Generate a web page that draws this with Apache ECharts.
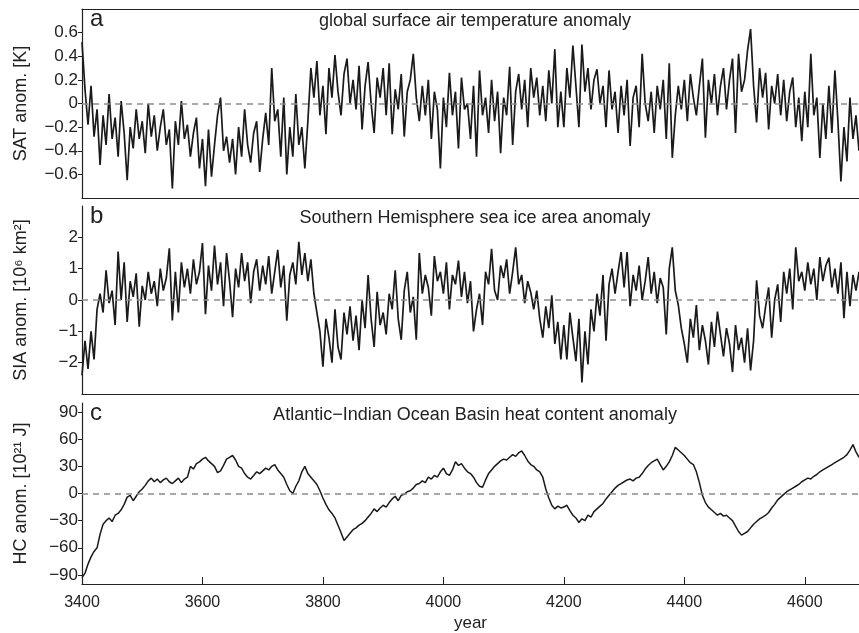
<!DOCTYPE html>
<html>
<head>
<meta charset="utf-8">
<script src="https://cdn.jsdelivr.net/npm/echarts@6/dist/echarts.min.js"></script>
<style>
  html, body { margin: 0; padding: 0; background: #fff; }
  #chart { width: 859px; height: 633px; }
</style>
</head>
<body>
<div id="chart"></div>
<script>
// model years 3400..4690, one value every 5 years
const startYear = 3400;
const yearStep = 5;

// global surface air temperature anomaly [K]
const satAnom = [
  0.52, 0.12, -0.18, 0.15, -0.28, -0.05, -0.52, -0.1, -0.35, 0.08,
  -0.3, -0.12, -0.45, 0.02, -0.25, -0.65, -0.2, -0.38, -0.05, -0.3,
  -0.15, -0.42, 0.0, -0.28, -0.1, -0.4, -0.2, -0.05, -0.35, -0.22,
  -0.72, -0.15, -0.35, 0.02, -0.3, -0.18, -0.45, -0.25, -0.12, -0.55,
  -0.3, -0.7, -0.22, -0.62, -0.35, -0.1, 0.05, -0.4, -0.28, -0.5,
  -0.3, -0.6, -0.2, -0.45, -0.05, -0.35, -0.5, -0.25, -0.15, -0.58,
  -0.3, -0.08, -0.35, 0.3, -0.15, -0.05, -0.45, 0.05, -0.6, -0.2,
  -0.45, 0.08, -0.35, -0.2, -0.55, -0.15, 0.3, 0.05, 0.36, -0.1,
  0.15, -0.26, 0.3, 0.05, 0.41, 0.1, -0.1, 0.25, 0.38, 0.0,
  0.2, -0.05, 0.32, -0.22, 0.15, 0.35, 0.0, -0.25, 0.22, 0.05,
  0.3, -0.1, 0.34, -0.26, 0.12, -0.05, 0.25, -0.28, 0.1, 0.2,
  0.42, 0.05, -0.15, 0.15, -0.1, 0.2, -0.3, 0.1, -0.05, -0.55,
  0.05, -0.2, 0.26, -0.1, 0.1, -0.38, 0.22, -0.05, 0.0, -0.3,
  0.15, -0.45, 0.28, -0.1, 0.05, -0.25, 0.2, -0.15, 0.1, -0.42,
  0.05, -0.1, 0.31, -0.35, 0.1, 0.25, -0.05, 0.2, -0.2, 0.3,
  0.05, 0.22, -0.1, 0.15, -0.15, 0.28, 0.0, 0.46, -0.2, 0.1,
  -0.2, 0.3, 0.05, 0.49, 0.15, -0.2, 0.5, 0.1, 0.3, -0.05,
  0.2, 0.29, 0.0, 0.15, -0.2, 0.28, -0.05, 0.1, -0.25, 0.15,
  -0.1, 0.2, -0.36, 0.05, 0.15, -0.2, 0.42, 0.0, -0.15, 0.1,
  -0.25, 0.15, -0.05, 0.2, -0.3, 0.34, -0.46, -0.1, 0.15, -0.05,
  0.2, -0.15, 0.25, 0.05, -0.1, 0.15, 0.38, -0.29, 0.2, 0.0,
  0.25, -0.1, 0.15, 0.3, -0.05, 0.2, 0.38, -0.25, 0.42, 0.1,
  0.2, 0.45, 0.63, 0.15, -0.16, 0.3, 0.05, 0.26, -0.22, 0.15,
  0.0, 0.25, -0.1, 0.2, -0.15, 0.1, 0.22, -0.2, 0.05, -0.32,
  0.1, -0.2, 0.42, -0.1, 0.05, -0.46, 0.0, -0.3, 0.15, -0.25,
  0.28, -0.15, -0.66, -0.2, -0.49, 0.05, -0.3, -0.1, -0.4
];

// Southern Hemisphere sea ice area anomaly [10^6 km^2]
const siaAnom = [
  -2.4, -1.3, -2.2, -1.0, -1.9, -0.3, 0.2, -0.4, 0.95, -0.1,
  0.3, -0.8, 1.55, 0.0, 1.2, -0.7, 0.6, 0.1, 0.85, -0.85,
  0.45, 0.0, 0.9, 0.2, 0.6, -0.2, 1.0, 0.3, 0.7, 1.65,
  -0.65, 0.9, -0.4, 1.2, 0.4, 1.0, 0.2, 1.3, 0.5, 0.9,
  1.82, -0.45, 1.1, 0.3, 1.74, 0.5, 1.2, -0.2, 1.5, 0.6,
  -0.55, 1.0, 0.4, 1.5, 0.6, 1.2, -0.1, 0.9, 1.3, 0.3,
  1.1, 0.5, 1.4, 0.2, 0.9, 1.6, 0.4, 1.1, -0.66, 0.8,
  1.2, 0.5, 1.86, 0.8, 1.5, 0.6, 1.3, 0.2, -0.4, -1.0,
  -2.13, -0.6, -1.2, -2.0, -0.3, -1.5, -1.9, -0.4, -1.1, -0.2,
  -1.3, -0.5, -1.6, 0.0, -0.9, 0.8, -0.6, -1.5, 0.26, -0.8,
  -0.4, -1.1, 0.2, -0.3, 0.95, -0.6, -1.27, 0.3, 0.9, -0.4,
  0.1, -1.27, 1.5, 0.2, 0.8, 0.4, -0.5, 1.4, 0.6, 0.9,
  0.2, 1.2, -0.3, 0.8, 0.5, 1.26, 0.1, 0.9, -0.1, 0.6,
  -1.0, -0.3, 0.2, -0.8, 0.9, 0.5, 1.63, 0.3, 0.0, 1.1,
  0.7, 1.3, 0.2, 0.9, 1.68, 0.5, 0.8, -0.1, 0.6, 0.25,
  -0.3, 0.3, -0.6, -1.2, -0.2, -0.9, 0.15, -1.4, -0.7, -1.9,
  -0.8, -1.9, -0.4, -1.2, -1.95, -0.6, -2.63, -1.0, -2.06, -0.3,
  -1.0, 0.2, -0.5, 0.8, -1.3, 0.5, 1.0, 0.2, 0.9, 1.53,
  0.4, 1.53, -0.2, 0.8, 0.3, 1.1, 0.0, 0.6, 1.37, 0.2,
  0.9, -0.1, 0.7, 0.4, -1.1, 1.0, 1.68, 0.3, -0.16, -0.9,
  -1.4, -2.0, -0.6, -1.2, -0.16, -1.6, -0.8, -1.3, -2.06, -0.7,
  -1.5, -0.37, -1.1, -1.8, -0.9, -1.4, -2.3, -0.8, -1.6, -1.2,
  -2.0, -0.9, -2.25, -1.3, 0.63, -0.5, -0.9, -0.2, 0.4, -1.2,
  0.0, 0.5, -0.7, 0.9, 0.2, 1.0, -0.3, 1.68, 0.6, 0.9,
  0.3, 1.2, 0.5, 1.0, 0.0, 1.37, 0.6, 1.1, 1.35, 0.4,
  1.0, 0.2, 1.2, -0.58, 0.9, -0.2, 0.8, 0.3, 0.9
];

// Atlantic-Indian Ocean Basin heat content anomaly [10^21 J]
const hcAnom = [
  -93, -88, -78, -70, -64, -60, -45, -34, -30, -27,
  -31, -24, -22, -18, -12, -4, -2, -8, -3, 2,
  5, 9, 14, 17, 13, 16, 12, 15, 17, 13,
  11, 14, 17, 12, 16, 18, 30, 27, 33, 35,
  38, 40, 36, 33, 30, 23, 25, 31, 38, 40,
  42, 37, 30, 28, 22, 18, 16, 20, 24, 22,
  25, 28, 26, 30, 32, 26, 22, 18, 10, 3,
  0, 8, 14, 24, 30, 22, 18, 14, 10, 3,
  -5, -12, -18, -22, -27, -35, -43, -52, -48, -44,
  -40, -38, -35, -33, -30, -26, -22, -17, -20, -16,
  -13, -15, -10, -6, -3, -8, -2, -1, 2, 3,
  6, 10, 11, 14, 12, 18, 16, 20, 18, 24,
  28, 22, 20, 26, 35, 31, 33, 28, 24, 22,
  18, 12, 8, 7, 15, 22, 26, 30, 33, 36,
  38, 37, 40, 43, 41, 45, 47, 42, 36, 32,
  30, 26, 24, 18, 5, -5, -13, -17, -14, -16,
  -15, -13, -19, -24, -27, -32, -28, -30, -24, -26,
  -20, -17, -14, -11, -6, -2, 2, 6, 9, 11,
  13, 15, 16, 14, 17, 18, 22, 27, 31, 34,
  36, 38, 32, 26, 30, 35, 42, 51, 48, 45,
  42, 38, 34, 32, 24, 12, -2, -10, -15, -18,
  -21, -24, -22, -25, -24, -27, -30, -36, -42, -46,
  -44, -42, -38, -34, -31, -28, -26, -24, -21, -16,
  -12, -7, -4, -1, 2, 4, 6, 8, 10, 13,
  15, 17, 16, 19, 21, 24, 26, 28, 30, 32,
  34, 36, 38, 40, 43, 48, 54, 46, 40
];

const yearTicks = [3400, 3600, 3800, 4000, 4200, 4400, 4600];
const satTicks = [-0.6, -0.4, -0.2, 0, 0.2, 0.4, 0.6];
const siaTicks = [-2, -1, 0, 1, 2];
const hcTicks = [-90, -60, -30, 0, 30, 60, 90];

const panelTitles = [
  'global surface air temperature anomaly',
  'Southern Hemisphere sea ice area anomaly',
  'Atlantic\u2212Indian Ocean Basin heat content anomaly'
];
const panelLetters = ['a', 'b', 'c'];
const axisNames = ['SAT anom. [K]', 'SIA anom. [10\u2076 km\u00b2]', 'HC anom. [10\u00b2\u00b9 J]'];

const FONT = 'Liberation Sans, Arial, Helvetica, sans-serif';
const INK = '#222';

function toPairs(vals) {
  return vals.map((v, i) => [startYear + i * yearStep, v]);
}

function fmt(v) {
  const s = String(Math.round(v * 10) / 10);
  return s.replace('-', '\u2212');
}

const grids = [
  { left: 82, right: 0, top: 9, height: 189 },
  { left: 82, right: 0, top: 206, height: 188 },
  { left: 82, right: 0, top: 403, height: 190 }
];
const yRanges = [[-0.8, 0.8], [-3, 3], [-100, 100]];
const yTickSets = [satTicks, siaTicks, hcTicks];
const seriesData = [satAnom, siaAnom, hcAnom];

const xAxes = grids.map((g, i) => ({
  type: 'value',
  gridIndex: i,
  min: 3400,
  max: 4690,
  interval: 200,
  axisLine: { show: true, onZero: false, lineStyle: { color: INK, width: 1.2 } },
  axisTick: { show: i === 2, inside: true, length: 7, lineStyle: { color: INK } },
  axisLabel: {
    show: i === 2, color: INK, fontFamily: FONT, fontSize: 16, margin: 11,
    customValues: yearTicks, formatter: v => String(v)
  },
  splitLine: { show: false },
  name: i === 2 ? 'year' : '',
  nameLocation: 'middle',
  nameGap: 31,
  nameTextStyle: { color: INK, fontFamily: FONT, fontSize: 17 }
}));
// top frame line of panel a
xAxes.push({
  type: 'value', gridIndex: 0, position: 'top', min: 3400, max: 4690,
  axisLine: { show: true, onZero: false, lineStyle: { color: INK, width: 1.2 } },
  axisTick: { show: false }, axisLabel: { show: false }, splitLine: { show: false }
});

const yAxes = grids.map((g, i) => ({
  type: 'value',
  gridIndex: i,
  min: yRanges[i][0],
  max: yRanges[i][1],
  axisLine: { show: true, onZero: false, lineStyle: { color: INK, width: 1.2 } },
  axisTick: { show: true, length: 4, customValues: yTickSets[i], lineStyle: { color: INK } },
  axisLabel: {
    color: INK, fontFamily: FONT, fontSize: 17, margin: 4,
    customValues: yTickSets[i], formatter: fmt
  },
  splitLine: { show: false },
  name: axisNames[i],
  nameLocation: 'middle',
  nameRotate: 90,
  nameGap: 52,
  nameTextStyle: { color: INK, fontFamily: FONT, fontSize: 18 }
}));

const series = seriesData.map((vals, i) => ({
  type: 'line',
  xAxisIndex: i,
  yAxisIndex: i,
  data: toPairs(vals),
  showSymbol: false,
  animation: false,
  lineStyle: { color: '#1a1a1a', width: i === 2 ? 1.5 : 1.7 },
  markLine: {
    silent: true,
    animation: false,
    symbol: ['none', 'none'],
    label: { show: false },
    lineStyle: { color: '#8c8c8c', type: [6, 5], width: 1.5 },
    data: [{ yAxis: 0 }]
  },
  z: 3
}));

const graphics = [];
grids.forEach((g, i) => {
  graphics.push({
    type: 'text', left: 90, top: g.top - 2,
    style: { text: panelLetters[i], font: '24px ' + FONT, fill: INK }
  });
  graphics.push({
    type: 'text', x: 475, y: g.top + 12,
    style: {
      text: panelTitles[i], font: '18px ' + FONT, fill: INK,
      align: 'center', verticalAlign: 'middle'
    }
  });
});

const chart = echarts.init(document.getElementById('chart'), null, { renderer: 'canvas' });
chart.setOption({
  backgroundColor: '#ffffff',
  animation: false,
  grid: grids,
  xAxis: xAxes,
  yAxis: yAxes,
  series: series,
  graphic: graphics
});
</script>
</body>
</html>
